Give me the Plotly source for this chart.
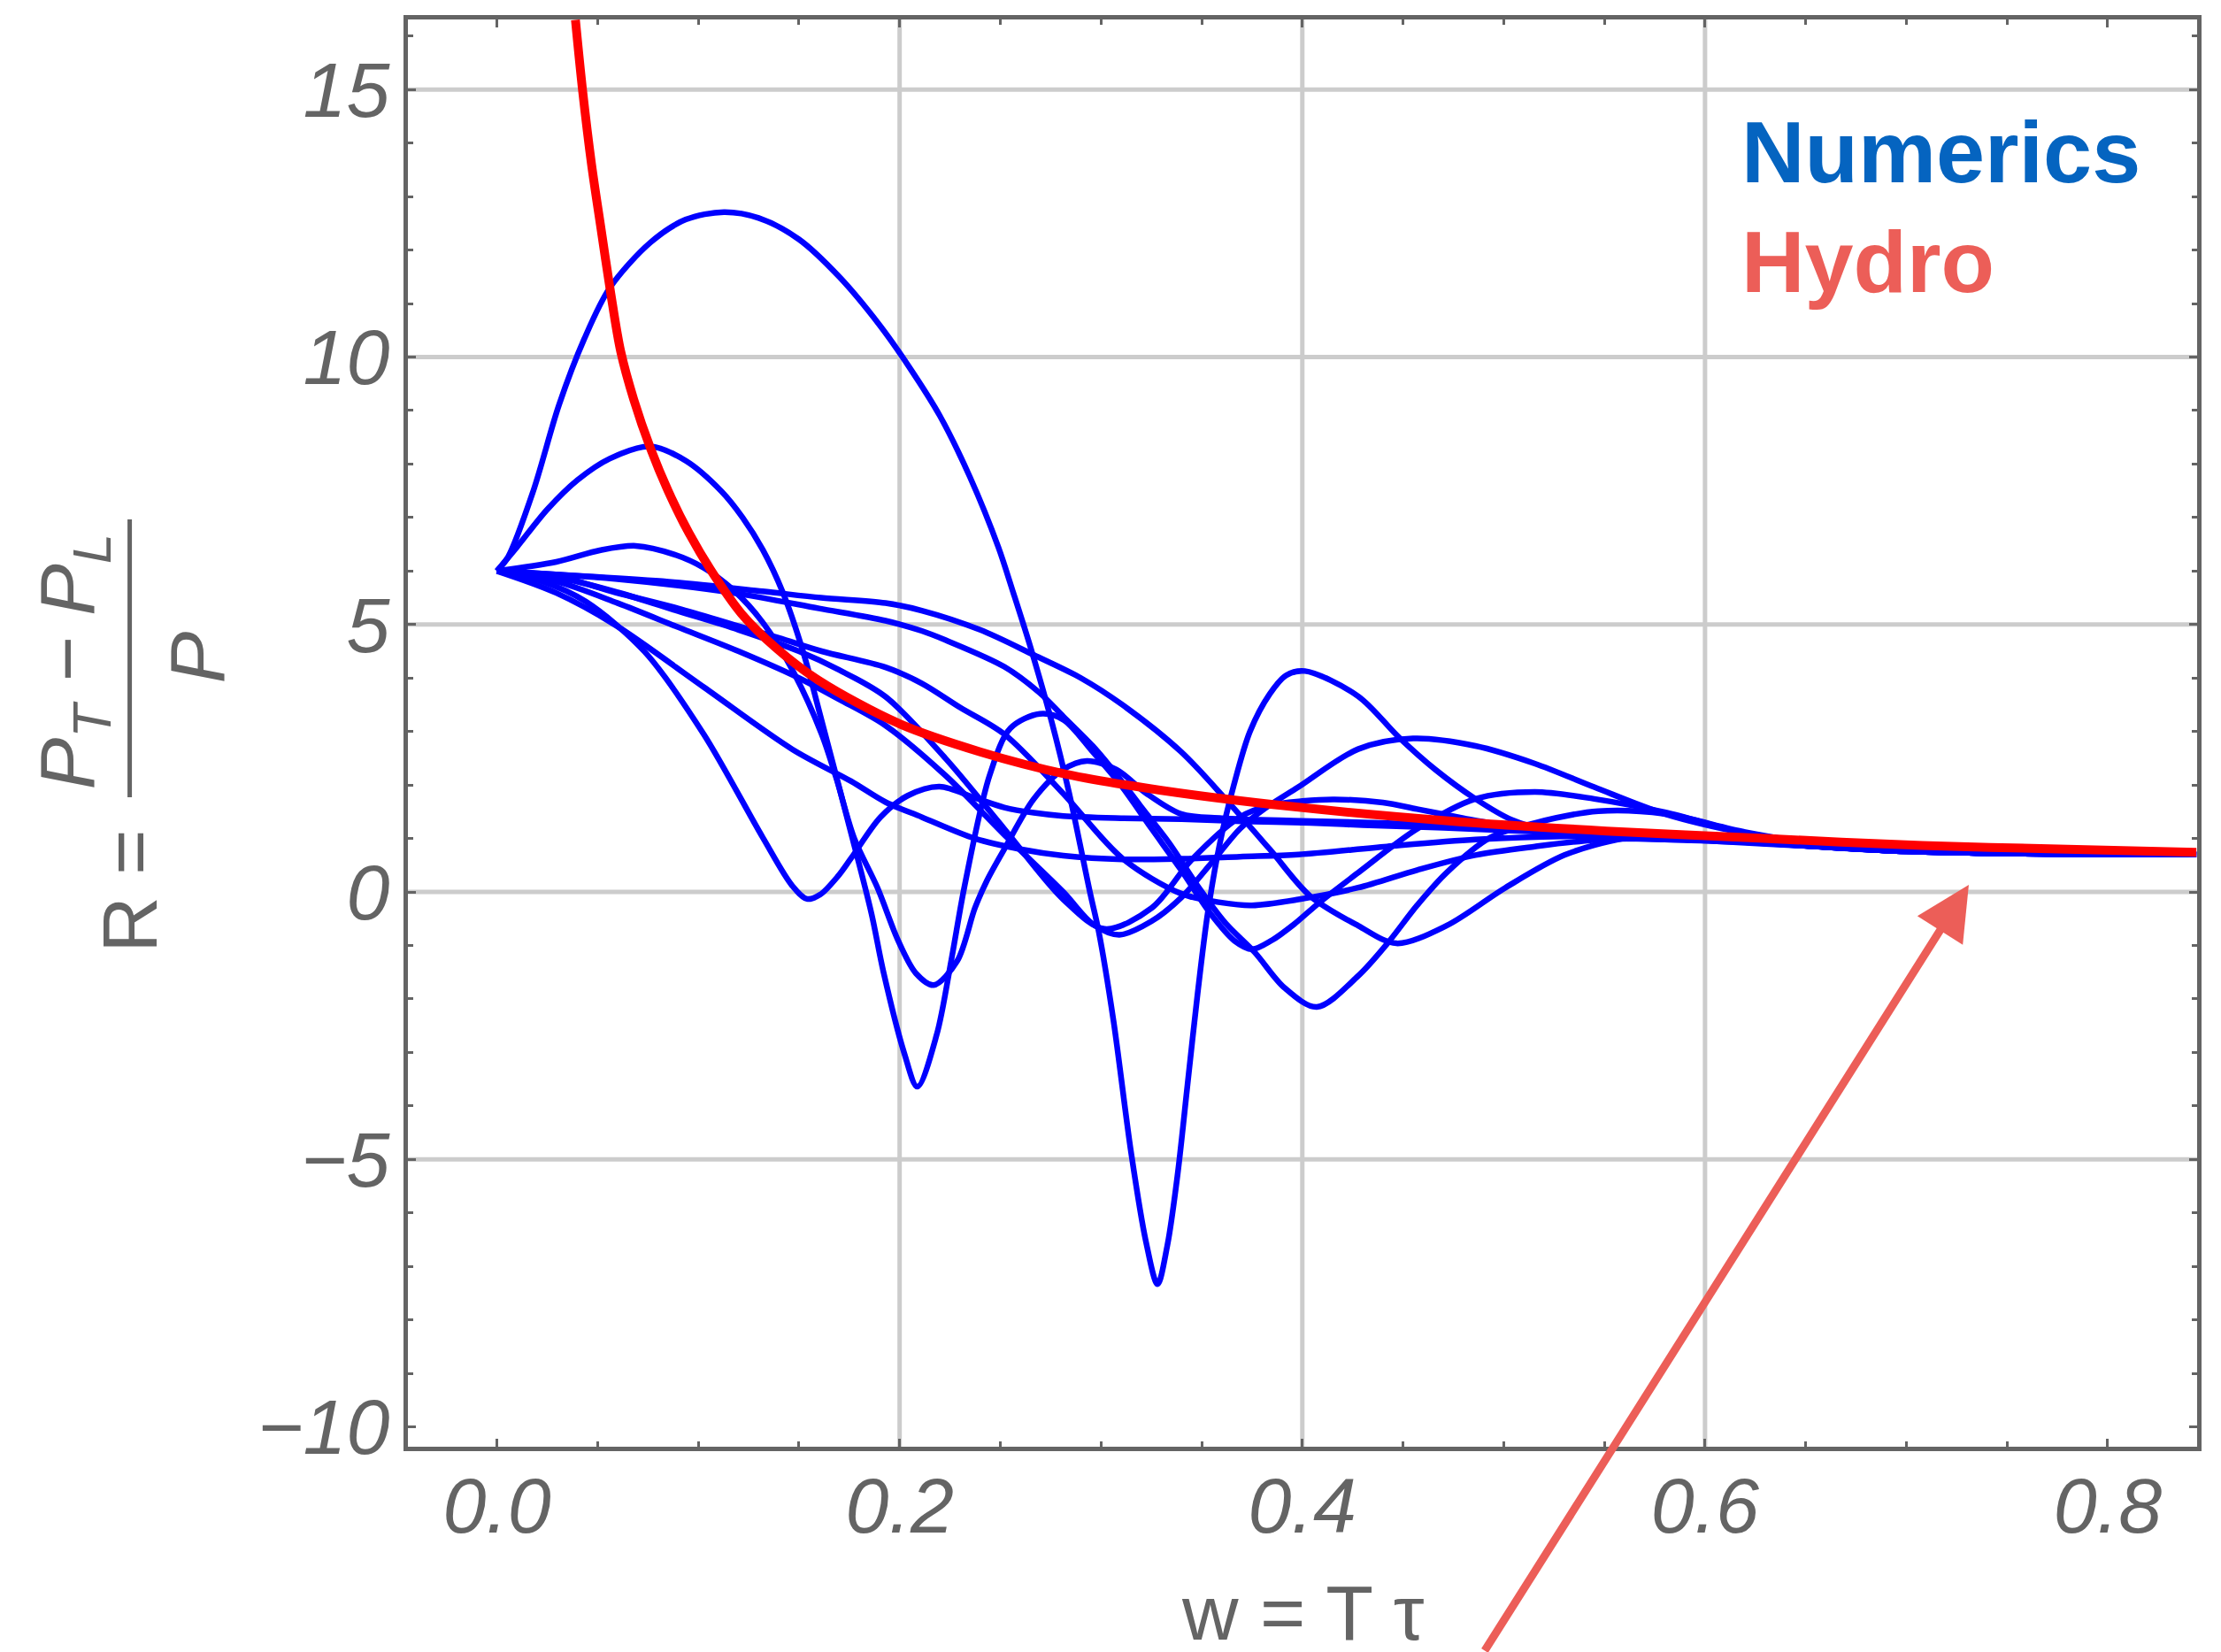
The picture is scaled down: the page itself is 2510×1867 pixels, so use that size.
import plotly.graph_objects as go

# ---------------- data ----------------
hydro_w = [0.039, 0.0425, 0.047, 0.0517, 0.0565, 0.0615, 0.068, 0.0762, 0.085, 0.0955, 0.1065,
           0.1215, 0.139, 0.16, 0.1996, 0.24, 0.283, 0.33, 0.394, 0.4726, 0.551, 0.6296, 0.7078,
           0.78, 0.844]
hydro_R = [16.3, 15.0, 13.6, 12.4, 11.2, 10.1, 9.2, 8.3, 7.5, 6.7, 6.0,
           5.2, 4.55, 3.95, 3.15, 2.62, 2.2, 1.9, 1.6, 1.33, 1.14, 1.0, 0.87,
           0.8, 0.74]

numA_w = [0, 0.0055, 0.018, 0.0308, 0.0434, 0.056, 0.0762, 0.0938, 0.1127, 0.13, 0.15, 0.17,
          0.19, 0.205, 0.22, 0.235, 0.249, 0.2564, 0.2652, 0.2754, 0.2842, 0.2945, 0.2989, 0.3062,
          0.315, 0.3223, 0.3281, 0.333, 0.338, 0.343, 0.348, 0.353, 0.359, 0.366, 0.374, 0.3838,
          0.392, 0.4013, 0.4277, 0.448, 0.466, 0.486, 0.504, 0.525, 0.55, 0.58, 0.62, 0.66, 0.70,
          0.75, 0.80, 0.844]
numA_R = [6, 6.26, 7.49, 9.1, 10.34, 11.29, 12.14, 12.57, 12.71, 12.6, 12.2, 11.5,
          10.6, 9.8, 8.9, 7.75, 6.45, 5.6, 4.55, 3.2, 1.85, 0.0, -0.74, -2.40,
          -4.88, -6.53, -7.33, -6.6, -5.3, -3.6, -1.9, -0.4, 0.9, 2.0, 3.0, 3.7,
          4.05, 4.13, 3.66, 2.89, 2.29, 1.74, 1.35, 1.12, 1.02, 0.98, 0.93, 0.84, 0.76,
          0.72, 0.71, 0.70]

numB_w = [0, 0.01, 0.025, 0.04, 0.056, 0.0762, 0.0938, 0.1115, 0.122, 0.132, 0.142, 0.152,
          0.1613, 0.1759, 0.186, 0.192, 0.2022, 0.2088, 0.2184, 0.2256, 0.2322, 0.2447, 0.255,
          0.2696, 0.2813, 0.2959, 0.3106, 0.3252, 0.3398, 0.3545, 0.3662, 0.375, 0.385, 0.396,
          0.4084, 0.4277, 0.457, 0.486, 0.5155, 0.545, 0.58, 0.62, 0.66, 0.70, 0.75, 0.80, 0.844]
numB_R = [6, 6.45, 7.15, 7.7, 8.1, 8.33, 8.06, 7.49, 7.0, 6.4, 5.6, 4.5,
          3.2, 1.1, -0.4, -1.5, -3.0, -3.64, -2.67, -1.29, 0.1, 2.18, 3.06,
          3.33, 3.22, 2.62, 1.96, 1.18, 0.41, -0.41, -0.91, -1.07, -0.9, -0.6,
          -0.2, 0.36, 1.18, 1.74, 1.87, 1.74, 1.49, 1.1, 0.86, 0.76, 0.72, 0.71, 0.70]

numC_w = [0, 0.0295, 0.0515, 0.069, 0.088, 0.1027, 0.1173, 0.132, 0.1466, 0.1613, 0.1686, 0.1775,
          0.189, 0.1993, 0.2081, 0.2169, 0.2286, 0.2374, 0.2432, 0.252, 0.2667, 0.2813, 0.293,
          0.3076, 0.3223, 0.3398, 0.36, 0.40, 0.45, 0.50, 0.55, 0.60, 0.66, 0.70, 0.75, 0.80, 0.844]
numC_R = [6, 6.17, 6.39, 6.47, 6.31, 6.06, 5.65, 5.04, 4.16, 2.95, 2.12, 1.0,
          0.08, -0.91, -1.52, -1.74, -1.29, -0.30, 0.2, 0.80, 1.74, 2.29, 2.45,
          2.29, 1.85, 1.46, 1.38, 1.33, 1.28, 1.2, 1.1, 0.98, 0.84, 0.76, 0.72, 0.71, 0.70]

numD_w = [0, 0.0222, 0.0441, 0.0734, 0.1027, 0.132, 0.1466, 0.154, 0.1605, 0.1695, 0.1759,
          0.1905, 0.204, 0.2198, 0.2374, 0.252, 0.2667, 0.2813, 0.31, 0.34, 0.37, 0.404, 0.43,
          0.47, 0.52, 0.58, 0.62, 0.66, 0.70, 0.75, 0.80, 0.844]
numD_R = [6, 5.81, 5.43, 4.49, 2.95, 1.02, 0.12, -0.13, -0.05, 0.3, 0.63,
          1.40, 1.80, 1.97, 1.76, 1.58, 1.48, 1.42, 1.38, 1.36, 1.32, 1.29, 1.25,
          1.2, 1.12, 1.02, 0.94, 0.84, 0.76, 0.72, 0.71, 0.70]

numE_w = [0, 0.0295, 0.0588, 0.1027, 0.1466, 0.1759, 0.193, 0.211, 0.2374, 0.26, 0.2813, 0.3106,
          0.3398, 0.369, 0.398, 0.442, 0.486, 0.53, 0.58, 0.62, 0.66, 0.70, 0.75, 0.80, 0.844]
numE_R = [6, 5.59, 4.99, 3.83, 2.67, 2.07, 1.68, 1.40, 1.0, 0.8, 0.68, 0.61,
          0.62, 0.66, 0.70, 0.85, 0.98, 1.04, 1.02, 0.94, 0.84, 0.76, 0.72, 0.71, 0.70]

numF_w = [0, 0.044, 0.088, 0.132, 0.161, 0.193, 0.211, 0.24, 0.2667, 0.29, 0.3106, 0.3398,
          0.3618, 0.3838, 0.404, 0.4277, 0.4467, 0.4716, 0.5009, 0.5302, 0.5594, 0.58, 0.62,
          0.66, 0.70, 0.75, 0.80, 0.844]
numF_R = [6, 5.9, 5.79, 5.62, 5.5, 5.40, 5.26, 4.9, 4.43, 4.0, 3.50, 2.62,
          1.74, 0.80, -0.08, -0.63, -0.96, -0.63, 0.08, 0.69, 1.0, 1.06, 0.98,
          0.84, 0.76, 0.72, 0.71, 0.70]

numG_w = [0, 0.0588, 0.1173, 0.16, 0.193, 0.211, 0.2227, 0.252, 0.2696, 0.2813, 0.2959, 0.3047,
          0.3194, 0.334, 0.3486, 0.3618, 0.3764, 0.3911, 0.4072, 0.4277, 0.4423, 0.457, 0.4716,
          0.4935, 0.5155, 0.547, 0.58, 0.62, 0.66, 0.70, 0.75, 0.80, 0.844]
numG_R = [6, 5.85, 5.59, 5.3, 5.07, 4.88, 4.71, 4.21, 3.72, 3.28, 2.73, 2.34,
          1.62, 0.91, 0.08, -0.58, -1.13, -1.79, -2.15, -1.57, -0.96, -0.25, 0.36,
          1.02, 1.29, 1.51, 1.46, 1.12, 0.88, 0.77, 0.72, 0.71, 0.70]

numH_w = [0, 0.03, 0.0588, 0.09, 0.1173, 0.14, 0.1613, 0.193, 0.211, 0.23, 0.252, 0.281,
          0.3106, 0.3398, 0.36, 0.375, 0.398, 0.4277, 0.457, 0.486, 0.5155, 0.545, 0.58,
          0.62, 0.66, 0.70, 0.75, 0.80, 0.844]
numH_R = [6, 5.9, 5.6, 5.3, 5.0, 4.75, 4.5, 4.2, 3.9, 3.45, 2.95, 1.85,
          0.63, -0.03, -0.2, -0.25, -0.14, 0.08, 0.41, 0.69, 0.85, 0.97, 1.0,
          0.94, 0.84, 0.76, 0.72, 0.71, 0.70]

numI_w = [0, 0.03, 0.06, 0.09, 0.12, 0.15, 0.17, 0.193, 0.2227, 0.252, 0.2813, 0.3018,
          0.3252, 0.345, 0.369, 0.3838, 0.40, 0.416, 0.44, 0.457, 0.48, 0.501, 0.53, 0.56,
          0.60, 0.66, 0.70, 0.75, 0.80, 0.844]
numI_R = [6, 5.88, 5.6, 5.25, 4.9, 4.5, 4.15, 3.65, 2.5, 1.18, -0.14, -0.69,
          -0.30, 0.6, 1.4, 1.62, 1.70, 1.73, 1.67, 1.55, 1.38, 1.24, 1.12, 1.04,
          0.96, 0.84, 0.76, 0.72, 0.71, 0.70]

numJ_w = [0, 0.03, 0.06, 0.09, 0.12, 0.15, 0.17, 0.193, 0.2227, 0.252, 0.2813, 0.296, 0.3091,
          0.325, 0.34, 0.355, 0.369, 0.381, 0.398, 0.4277, 0.455, 0.486, 0.5155, 0.545, 0.58,
          0.62, 0.66, 0.70, 0.75, 0.80, 0.844]
numJ_R = [6, 5.8, 5.4, 4.95, 4.5, 4.0, 3.6, 3.11, 2.18, 1.07, 0.0, -0.6, -0.80,
          -0.55, -0.1, 0.55, 1.18, 1.55, 1.96, 2.67, 2.87, 2.73, 2.40, 1.96, 1.46,
          1.1, 0.88, 0.77, 0.72, 0.71, 0.70]

x_tick_vals = [0.0, 0.2, 0.4, 0.6, 0.8]
x_tick_text = ["0.0", "0.2", "0.4", "0.6", "0.8"]
y_tick_vals = [-10, -5, 0, 5, 10, 15]
y_tick_text = ["\u221210", "\u22125", "0", "5", "10", "15"]
grid_x = [0.2, 0.4, 0.6]
grid_y = [-5, 0, 5, 10, 15]

# ---------------- figure ----------------
GRAY = "#646464"
FONT = "Liberation Sans, Arial, Helvetica, sans-serif"

numerics = [(numA_w, numA_R), (numB_w, numB_R), (numC_w, numC_R), (numD_w, numD_R),
            (numE_w, numE_R), (numF_w, numF_R), (numG_w, numG_R), (numH_w, numH_R),
            (numI_w, numI_R), (numJ_w, numJ_R)]

fig = go.Figure()
for w, r in numerics:
    fig.add_trace(go.Scatter(x=w, y=r, mode="lines",
                             line=dict(color="#0000ff", width=6.5, shape="spline", smoothing=0.9),
                             showlegend=False, hoverinfo="skip"))
fig.add_trace(go.Scatter(x=hydro_w, y=hydro_R, mode="lines",
                         line=dict(color="#ff0000", width=10, shape="spline", smoothing=0.9),
                         showlegend=False, hoverinfo="skip"))

shapes = []
for gx in grid_x:
    shapes.append(dict(type="line", xref="x", yref="paper", x0=gx, x1=gx, y0=0, y1=1,
                       line=dict(color="#cccccc", width=5), layer="below"))
for gy in grid_y:
    shapes.append(dict(type="line", xref="paper", yref="y", x0=0, x1=1, y0=gy, y1=gy,
                       line=dict(color="#cccccc", width=5), layer="below"))
# fraction bar of the y-axis label
shapes.append(dict(type="line", xref="paper", yref="paper", x0=-0.1555, x1=-0.1555,
                   y0=0.4551, y1=0.6497, line=dict(color=GRAY, width=5)))

annotations = [
    dict(text="<b>Numerics</b>", xref="paper", yref="paper", x=0.745, y=0.9074,
         xanchor="left", yanchor="middle", showarrow=False, borderpad=0,
         font=dict(family=FONT, size=99, color="#0564c0")),
    dict(text="<b>Hydro</b>", xref="paper", yref="paper", x=0.745, y=0.8304,
         xanchor="left", yanchor="middle", showarrow=False, borderpad=0,
         font=dict(family=FONT, size=99, color="#ec5e58")),
    dict(text="", x=0.731, y=0.132, xref="x", yref="y", ax=-548, ay=869,
         showarrow=True, arrowhead=2, arrowsize=1.35, arrowwidth=9, arrowcolor="#ec5e58"),
    dict(text="w = T \u03c4", xref="paper", yref="paper", x=0.5004, y=-0.116,
         xanchor="center", yanchor="middle", showarrow=False,
         font=dict(family=FONT, size=88, color=GRAY)),
    dict(text="R =", xref="paper", yref="paper", x=-0.156, y=0.3893, textangle=-90,
         xanchor="center", yanchor="middle", showarrow=False,
         font=dict(family=FONT, size=88, color=GRAY)),
    dict(text="<i>P<sub>T</sub> \u2212 P<sub>L</sub></i>", xref="paper", yref="paper",
         x=-0.1877, y=0.5505, textangle=-90, xanchor="center", yanchor="middle",
         showarrow=False, font=dict(family=FONT, size=88, color=GRAY)),
    dict(text="<i>P</i>", xref="paper", yref="paper", x=-0.118, y=0.553, textangle=-90,
         xanchor="center", yanchor="middle", showarrow=False,
         font=dict(family=FONT, size=88, color=GRAY)),
]

axis_common = dict(showgrid=False, zeroline=False, showline=True, linecolor=GRAY, linewidth=5,
                   mirror="allticks", ticks="inside", ticklen=9, tickwidth=3, tickcolor=GRAY,
                   tickfont=dict(family=FONT, size=88, color=GRAY, style="italic"))

fig.update_layout(
    width=2510, height=1867,
    margin=dict(l=461, r=27, t=22, b=232),
    paper_bgcolor="white", plot_bgcolor="white",
    showlegend=False,
    shapes=shapes, annotations=annotations,
    xaxis=dict(range=[-0.0442, 0.8444], tickvals=x_tick_vals, ticktext=x_tick_text,
               ticklabelstandoff=-14,
               minor=dict(dtick=0.05, tick0=0, ticks="inside", ticklen=6, tickwidth=3,
                          tickcolor=GRAY, showgrid=False),
               **axis_common),
    yaxis=dict(range=[-10.37, 16.31], tickvals=y_tick_vals, ticktext=y_tick_text,
               ticklabelstandoff=-2,
               minor=dict(dtick=1, tick0=0, ticks="inside", ticklen=6, tickwidth=3,
                          tickcolor=GRAY, showgrid=False),
               **axis_common),
)

fig.write_html("out.html")
